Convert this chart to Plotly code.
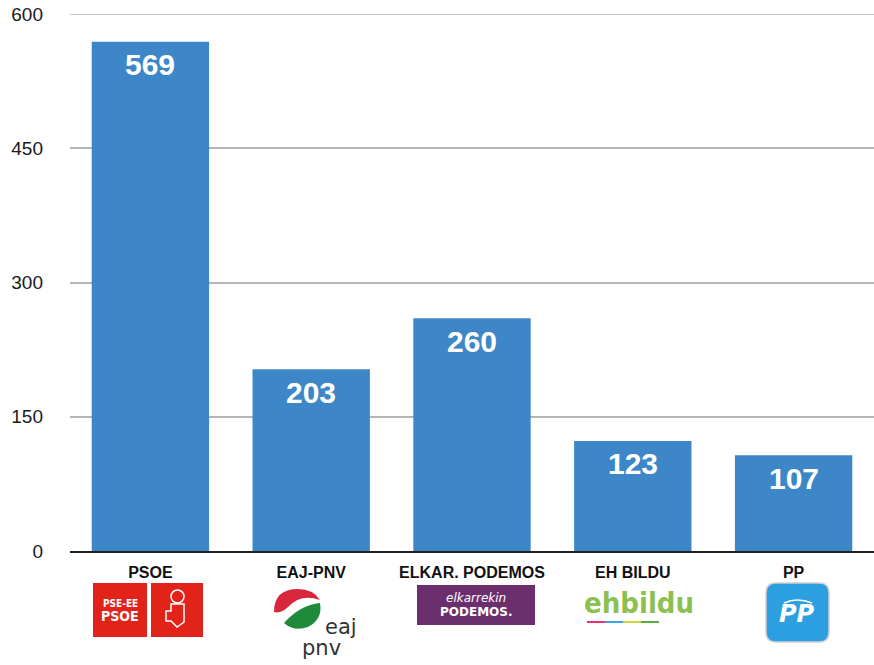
import plotly.graph_objects as go

categories = ["PSOE", "EAJ-PNV", "ELKAR. PODEMOS", "EH BILDU", "PP"]
values = [569, 203, 260, 123, 107]
tick_vals = [0, 150, 300, 450, 600]
tick_text = ["0", "150", "300", "450", "600"]

BAR_COLOR = "#3d87c8"
GRID = "#b5b5b5"
FONT = "Liberation Sans, Arial, Helvetica, sans-serif"

W, H = 874, 665
L, R, T, B = 70, 0, 14, 114
PX0, PX1 = 70, 874      # plot area in screen pixels
PY0, PY1 = 14, 551


def px(x):
    return (x - PX0) / (PX1 - PX0)


def py(y):
    return (PY1 - y) / (PY1 - PY0)


fig = go.Figure()
fig.add_trace(go.Bar(
    x=categories, y=values, marker=dict(color=BAR_COLOR, line=dict(width=0)),
    hoverinfo="skip",
))

anns = []
# value labels inside bars
for c, v in zip(categories, values):
    anns.append(dict(x=c, y=v, xref="x", yref="y", text=f"<b>{v}</b>",
                     showarrow=False, xanchor="center", yanchor="middle", yshift=-23,
                     font=dict(family=FONT, size=30, color="white")))

shapes = []
# top gridline (range edge)
shapes.append(dict(type="line", xref="paper", yref="y", x0=0, x1=1, y0=tick_vals[-1], y1=tick_vals[-1],
                   line=dict(color=GRID, width=1.5), layer="below"))


def note(x, y, text, size, color, family="DejaVu Sans"):
    anns.append(dict(xref="paper", yref="paper", x=px(x), y=py(y), text=text,
                     showarrow=False, xanchor="center", yanchor="middle", align="center",
                     font=dict(family=family, size=size, color=color)))


# PSOE logo: two red boxes
RED = "#e2231a"
shapes.append(dict(type="rect", xref="paper", yref="paper", x0=px(93), x1=px(147), y0=py(637), y1=py(583),
                   fillcolor=RED, line=dict(width=0), layer="above"))
shapes.append(dict(type="rect", xref="paper", yref="paper", x0=px(151), x1=px(203), y0=py(637), y1=py(583),
                   fillcolor=RED, line=dict(width=0), layer="above"))
note(120, 603, "<b>PSE-EE</b>", 10, "white", "DejaVu Sans Condensed, DejaVu Sans")
note(120, 616, "<b>PSOE</b>", 14, "white", "DejaVu Sans Condensed, DejaVu Sans")
# fist & rose approximation
shapes.append(dict(type="path", xref="paper", yref="paper",
                   path=f"M {px(171)},{py(604)} L {px(184)},{py(604)} L {px(184)},{py(622)} L {px(177)},{py(627)} "
                        f"L {px(171)},{py(621)} L {px(166)},{py(621)} L {px(166)},{py(611)} L {px(171)},{py(611)} Z",
                   fillcolor="rgba(0,0,0,0)", line=dict(color="white", width=1.5), layer="above"))
shapes.append(dict(type="circle", xref="paper", yref="paper", x0=px(171), x1=px(184), y0=py(603), y1=py(590),
                   fillcolor="rgba(0,0,0,0)", line=dict(color="white", width=1.5), layer="above"))

# EAJ-PNV logo
shapes.append(dict(type="path", xref="paper", yref="paper",
                   path=f"M {px(274)},{py(612)} Q {px(274)},{py(589)} {px(298)},{py(589)} "
                        f"Q {px(313)},{py(589)} {px(320)},{py(600)} Q {px(301)},{py(593)} {px(288)},{py(607)} "
                        f"Q {px(281)},{py(614)} {px(274)},{py(612)} Z",
                   fillcolor="#d8263a", line=dict(width=0), layer="above"))
shapes.append(dict(type="path", xref="paper", yref="paper",
                   path=f"M {px(284)},{py(623)} Q {px(300)},{py(605)} {px(320)},{py(603)} "
                        f"Q {px(323)},{py(619)} {px(308)},{py(627)} Q {px(294)},{py(632)} {px(284)},{py(623)} Z",
                   fillcolor="#1f8a3a", line=dict(width=0), layer="above"))
note(341, 627, "eaj", 21, "#333333")
note(321, 648, "pnv", 21, "#333333")

# Elkarrekin Podemos logo
shapes.append(dict(type="rect", xref="paper", yref="paper", x0=px(417), x1=px(535), y0=py(625), y1=py(585),
                   fillcolor="#6c2f6e", line=dict(width=0), layer="above"))
note(476, 598, "<i>elkarrekin</i>", 12, "white")
note(476, 612, "<b>PODEMOS.</b>", 12, "white")

# EH Bildu logo
note(639, 603, "<b>ehbildu</b>", 29, "#8cc152", "DejaVu Sans Condensed, DejaVu Sans")
seg_colors = ["#e5337a", "#3aa7dc", "#c9d635", "#5aaa46"]
for i, col in enumerate(seg_colors):
    shapes.append(dict(type="line", xref="paper", yref="paper", x0=px(587 + i * 18), x1=px(587 + (i + 1) * 18),
                       y0=py(622), y1=py(622), line=dict(color=col, width=2), layer="above"))

# PP logo
shapes.append(dict(type="path", xref="paper", yref="paper",
                   path=f"M {px(776)},{py(583)} L {px(819)},{py(583)} Q {px(829)},{py(583)} {px(829)},{py(593)} "
                        f"L {px(829)},{py(632)} Q {px(829)},{py(642)} {px(819)},{py(642)} L {px(776)},{py(642)} "
                        f"Q {px(766)},{py(642)} {px(766)},{py(632)} L {px(766)},{py(593)} Q {px(766)},{py(583)} {px(776)},{py(583)} Z",
                   fillcolor="#2b9fe0", line=dict(color="#d0d0d0", width=1.5), layer="above"))
note(797, 614, "<b><i>PP</i></b>", 24, "white")
shapes.append(dict(type="path", xref="paper", yref="paper",
                   path=f"M {px(784)},{py(603)} Q {px(797)},{py(597)} {px(812)},{py(603)}",
                   line=dict(color="white", width=1.5), layer="above"))

fig.update_layout(
    width=W, height=H,
    margin=dict(l=L, r=R, t=T, b=B, pad=0),
    paper_bgcolor="white", plot_bgcolor="white",
    bargap=0.27,
    showlegend=False,
    shapes=shapes,
    annotations=anns,
    font=dict(family=FONT),
)
fig.update_yaxes(
    range=[0, 600], tickvals=tick_vals, ticktext=tick_text,
    showgrid=True, gridcolor=GRID, gridwidth=1.5, zeroline=False,
    showline=False, ticks="", ticklabelstandoff=26,
    tickfont=dict(family=FONT, size=19, color="#1a1a1a"),
)
fig.update_xaxes(
    showline=True, linecolor="#222222", linewidth=2, showgrid=False,
    ticks="", ticklabelstandoff=6, tickfont=dict(family=FONT, size=16, color="#111111"),
    tickprefix="<b>", ticksuffix="</b>",
)

fig.write_html("out.html", config={"displayModeBar": False},
               post_script="document.body.style.margin='0';document.body.style.overflow='hidden';")
